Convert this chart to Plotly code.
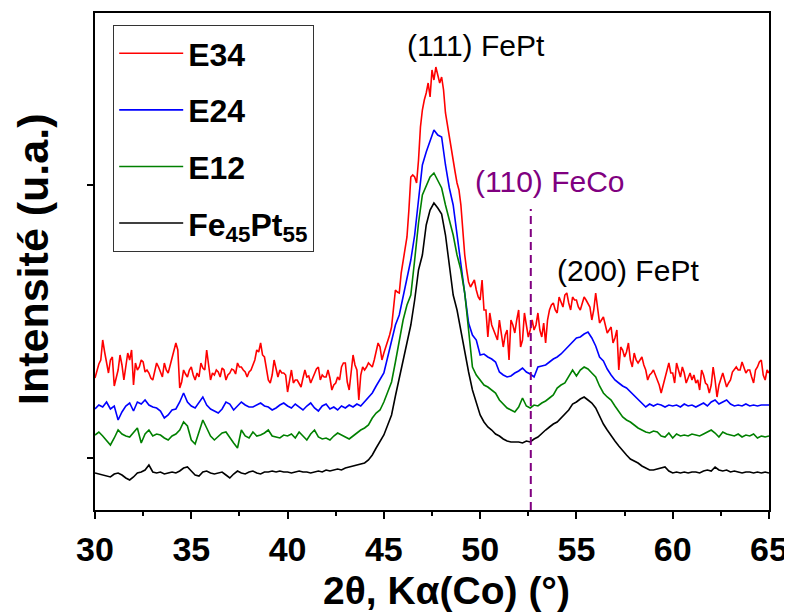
import numpy as np
import plotly.graph_objects as go

# XRD patterns, offset for clarity (intensity in arbitrary units)
# black / green / blue sampled every 0.2 deg, red every 0.1 deg, from 30 to 65
two_theta_coarse = np.round(np.arange(30.0, 65.001, 0.2), 2)
two_theta_fine = np.round(np.arange(30.0, 65.001, 0.1), 2)

fe45pt55 = [
    37, 36, 35, 34, 33, 36, 37, 35,
    32, 30, 33, 37, 38, 40, 45, 38,
    37, 38, 36, 37, 38, 37, 39, 42, 43,
    39, 35, 34, 38, 39, 37, 36, 37, 38, 35,
    32, 36, 39, 37, 36, 38, 39, 37, 36, 38,
    38, 39, 38, 39, 38, 38, 37, 38, 39, 38,
    38, 37, 38, 39, 38, 40, 39, 40, 41, 40,
    42, 43, 44, 45, 46,
    47, 50, 55, 62, 68, 75, 85, 95, 114, 132,
    148, 165, 185, 210, 240, 255, 285, 300, 307, 302,
    296, 275, 245, 215, 200, 178, 158, 138, 120, 107,
    95, 88, 83, 80, 76, 74, 71, 69, 68, 68,
    68, 67, 69, 68, 71, 73, 77, 80, 83, 86,
    88, 92, 96, 100, 106, 108, 111, 113, 110, 107,
    102, 94, 86, 80, 74, 69, 64, 59, 55, 51,
    49, 47, 44, 42, 40, 40, 41, 42, 43, 39,
    37, 38, 37, 38, 37, 38, 38, 37, 39, 40,
    39, 43, 40, 39, 40, 38, 39, 38, 37, 38,
    38, 37, 38, 37, 38, 37,
]

e12 = [
    75, 78, 74, 70, 65, 72, 80, 76, 74, 73,
    78, 82, 67, 76, 80, 74, 76, 75, 72, 70,
    74, 76, 80, 88, 84, 70, 66, 78, 90, 82,
    74, 70, 74, 77, 78, 72, 67, 62, 80, 74,
    72, 78, 74, 75, 77, 80, 74, 73, 72, 75,
    74, 76, 72, 78, 74, 70, 76, 80, 73, 71,
    72, 70, 74, 77, 75, 73, 71, 74, 77, 80,
    82, 85, 92, 97, 100, 108, 118, 128, 148, 168,
    190, 205, 215, 250, 287, 315, 325, 333, 337, 330,
    322, 305, 290, 275, 255, 240, 217, 183, 143, 135,
    130, 125, 123, 120, 117, 110, 106, 102, 100, 98,
    103, 112, 104, 102, 105, 104, 107, 109, 112, 115,
    122, 125, 127, 133, 140, 134, 140, 143, 141, 137,
    133, 124, 117, 113, 110, 104, 98, 93, 90, 88,
    85, 82, 80, 78, 77, 79, 78, 74, 73, 77,
    72, 76, 74, 75, 74, 76, 75, 74, 76, 78,
    80, 77, 73, 78, 76, 75, 74, 76, 73, 75,
    74, 76, 72, 74, 73, 74,
]

e24 = [
    101, 105, 103, 108, 101, 104, 90, 98, 104, 107,
    99, 108, 106, 110, 105, 103, 102, 99, 92, 95,
    100, 101, 108, 117, 108, 104, 102, 108, 113, 105,
    101, 99, 97, 101, 108, 106, 100, 104, 108, 105,
    103, 103, 105, 107, 104, 103, 100, 102, 105, 107,
    104, 102, 106, 103, 100, 104, 107, 102, 99, 104,
    106, 101, 103, 100, 104, 102, 105, 103, 106, 104,
    108, 112, 117, 124, 131, 137, 153, 168, 185, 195,
    213, 232, 250, 275, 310, 345, 358, 370, 380, 375,
    373, 345, 322, 305, 275, 245, 215, 187, 175, 170,
    155, 156, 153, 151, 148, 138, 135, 133, 134, 137,
    139, 142, 138, 136, 133, 143, 144, 145, 148, 151,
    153, 156, 160, 164, 167, 172, 173, 176, 178, 172,
    164, 153, 149, 141, 135, 130, 127, 124, 122, 118,
    114, 111, 107, 103, 106, 104, 106, 105, 103, 105,
    104, 105, 103, 106, 104, 105, 103, 105, 107, 104,
    108, 110, 106, 108, 110, 106, 104, 105, 104, 106,
    104, 105, 104, 105, 105, 105,
]

e34 = [
    132, 140, 146, 150, 170, 158, 147, 137, 150, 153,
    124, 133, 140, 155, 145, 130, 142, 157, 150, 160,
    125, 147, 140, 143, 150, 148, 138, 140, 137, 132,
    130, 140, 147, 143, 137, 133, 147, 140, 137, 145,
    153, 160, 167, 160, 122, 128, 140, 136, 133, 140,
    143, 135, 130, 137, 133, 147, 142, 140, 160, 145,
    130, 137, 135, 140, 138, 133, 142, 140, 130, 135,
    137, 141, 140, 136, 147, 143, 143, 140, 138, 133,
    138, 140, 145, 150, 160, 158, 167, 155, 153, 140,
    130, 127, 135, 150, 142, 133, 140, 137, 137, 135,
    118, 130, 140, 127, 130, 130, 127, 123, 132, 140,
    133, 134, 127, 132, 137, 141, 143, 130, 135, 133,
    133, 140, 132, 120, 125, 127, 133, 130, 143, 147,
    147, 128, 120, 137, 155, 145, 140, 110, 135, 143,
    140, 143, 147, 145, 143, 150, 160, 167, 163, 150,
    157, 163, 167, 175, 183, 205, 220, 218, 217, 237,
    250, 262, 273, 300, 333, 335, 333, 327, 350, 383,
    400, 410, 417, 427, 413, 440, 430, 443, 435, 427,
    433, 420, 397, 385, 370, 360, 350, 338, 327, 320,
    305, 275, 255, 240, 228, 223, 226, 230, 220, 213,
    210, 230, 200, 200, 173, 197, 185, 180, 175, 170,
    190, 178, 163, 175, 180, 150, 190, 185, 177, 190,
    200, 163, 170, 197, 185, 173, 180, 190, 180, 185,
    197, 180, 173, 187, 167, 190, 200, 205, 207, 200,
    197, 213, 208, 203, 215, 217, 207, 200, 213, 210,
    210, 203, 200, 207, 213, 210, 207, 203, 190, 200,
    217, 200, 187, 190, 193, 185, 177, 180, 183, 167,
    172, 180, 140, 163, 160, 153, 158, 167, 150, 143,
    157, 150, 147, 150, 153, 145, 140, 130, 135, 137,
    140, 135, 130, 125, 117, 125, 130, 140, 147, 137,
    137, 127, 147, 140, 133, 143, 137, 127, 132, 137,
    130, 135, 127, 130, 120, 140, 135, 127, 125, 117,
    125, 143, 130, 113, 125, 130, 137, 130, 123, 127,
    130, 138, 140, 143, 140, 140, 148, 143, 137, 140,
    140, 133, 127, 140, 143, 148, 150, 135, 130, 140,
    137,
]

feco_110 = 52.63          # position of the (110) FeCo reflection
feco_line_top = 301

series = [
    ("E34", two_theta_fine, e34, "#ff0000"),
    ("E24", two_theta_coarse, e24, "#0000ff"),
    ("E12", two_theta_coarse, e12, "#008000"),
    ("Fe<sub>45</sub>Pt<sub>55</sub>", two_theta_coarse, fe45pt55, "#000000"),
]

FONT = "Liberation Sans, Arial, sans-serif"

fig = go.Figure()
for i, (name, x, y, color) in enumerate(series):
    fig.add_trace(go.Scatter(x=x, y=y, mode="lines", name=name, legendgroup=str(i),
                             line=dict(color=color, width=1.6)))

fig.add_trace(go.Scatter(x=[feco_110, feco_110], y=[0, feco_line_top], mode="lines",
                         line=dict(color="#800080", width=2, dash="8px,5px"),
                         showlegend=False, hoverinfo="skip"))

peaks = [
    ("(111) FePt", 49.78, 465, "#000000"),
    ("(110) FeCo", 53.63, 329, "#800080"),
    ("(200) FePt", 57.68, 240, "#000000"),
]
for text, x, y, color in peaks:
    fig.add_annotation(x=x, y=y, text=text, showarrow=False,
                       font=dict(family=FONT, size=30, color=color))

fig.add_annotation(xref="paper", yref="paper", x=0.521, y=-0.162, text="2θ, Kα(Co) (°)",
                   showarrow=False, xanchor="center", yanchor="middle",
                   font=dict(family=FONT, size=39, color="black", weight="bold"))
fig.add_annotation(xref="paper", yref="paper", x=-0.092, y=0.505, text="Intensité (u.a.)",
                   showarrow=False, textangle=-90, xanchor="center", yanchor="middle",
                   font=dict(family=FONT, size=43, color="black", weight="bold"))

# the page body keeps an 8 px margin, so the figure is 8 px smaller than the window
fig.update_layout(
    width=784, height=605,
    margin=dict(l=87, r=23, t=5, b=103),
    plot_bgcolor="white", paper_bgcolor="white",
    showlegend=True,
    legend=dict(x=0.027, y=0.976, xanchor="left", yanchor="top",
                bordercolor="#333333", borderwidth=1, bgcolor="white",
                tracegroupgap=12, itemwidth=64,
                font=dict(family=FONT, size=32, color="black", weight="bold")),
)
fig.update_xaxes(range=[30, 65], dtick=5, tick0=30, showgrid=False, zeroline=False,
                 automargin=False,
                 showline=True, mirror=True, linecolor="black", linewidth=2,
                 ticks="outside", ticklen=7, tickwidth=2, tickcolor="black",
                 ticklabelstandoff=1,
                 minor=dict(ticks="outside", dtick=2.5, ticklen=4, tickwidth=1.5,
                            tickcolor="black", showgrid=False),
                 tickfont=dict(family=FONT, size=34, color="black", weight="bold"))
fig.update_yaxes(range=[0, 497], tickvals=[52, 325], showticklabels=False,
                 showgrid=False, zeroline=False, automargin=False,
                 showline=True, mirror=True, linecolor="black", linewidth=2,
                 ticks="outside", ticklen=6, tickwidth=1.5, tickcolor="black")

fig.write_html("out.html")
